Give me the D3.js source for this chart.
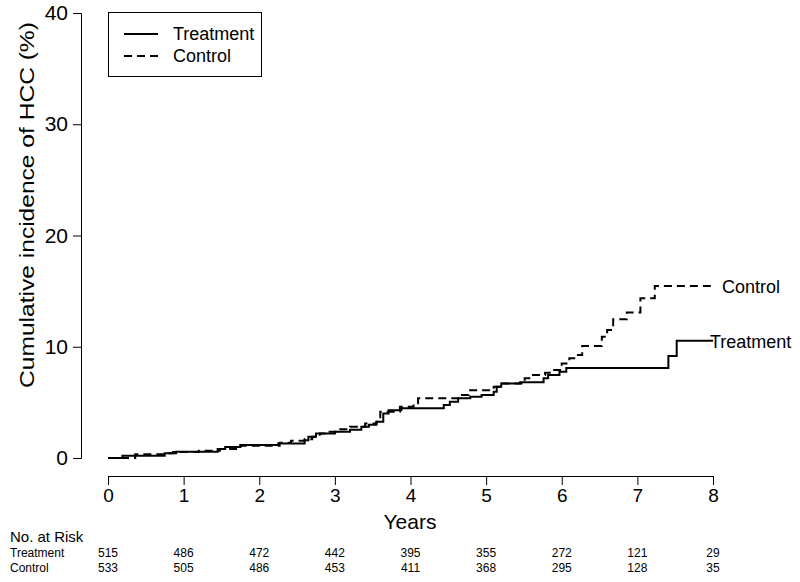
<!DOCTYPE html>
<html>
<head>
<meta charset="utf-8">
<script src="https://cdn.jsdelivr.net/npm/d3@7"></script>
<style>
  body { margin: 0; background: #fff; }
  svg { display: block; }
  text { font-family: "Liberation Sans", Arial, sans-serif; fill: #000; }
</style>
</head>
<body>
<svg id="chart" width="800" height="582"></svg>
<script>
// ---- data ----
const treatmentTimes  = [0, 0.19, 0.75, 0.90, 1.45, 1.55, 1.75, 2.25, 2.60, 2.65, 2.75, 3.00, 3.20, 3.35, 3.45, 3.55, 3.64, 3.71, 3.88, 4.44, 4.52, 4.63, 4.79, 4.94, 5.10, 5.14, 5.20, 5.45, 5.76, 5.82, 5.97, 6.06, 7.41, 7.52, 8.0];
const treatmentValues = [0, 0.20, 0.42, 0.57, 0.80, 1.00, 1.17, 1.30, 1.60, 1.90, 2.20, 2.35, 2.55, 2.80, 3.00, 3.26, 4.00, 4.30, 4.47, 4.77, 5.06, 5.37, 5.50, 5.67, 5.96, 6.40, 6.70, 6.80, 7.17, 7.46, 7.76, 8.10, 9.17, 10.55, 10.55];
const controlTimes  = [0, 0.36, 0.75, 0.86, 1.20, 1.48, 1.75, 2.27, 2.42, 2.60, 2.70, 2.80, 2.90, 3.05, 3.20, 3.40, 3.55, 3.60, 3.86, 4.04, 4.10, 4.65, 4.77, 5.10, 5.18, 5.51, 5.60, 5.78, 5.87, 6.00, 6.10, 6.20, 6.27, 6.53, 6.60, 6.68, 6.86, 7.04, 7.23, 8.0];
const controlValues = [0, 0.33, 0.42, 0.54, 0.66, 0.80, 1.10, 1.38, 1.56, 1.68, 1.90, 2.20, 2.37, 2.58, 2.80, 3.10, 3.26, 4.16, 4.60, 4.92, 5.37, 5.67, 6.10, 6.40, 6.70, 7.17, 7.46, 7.67, 7.90, 8.50, 8.97, 9.26, 10.07, 10.90, 11.50, 12.47, 13.07, 14.36, 15.47, 15.47];
const xTicks = [0, 1, 2, 3, 4, 5, 6, 7, 8];
const yTicks = [0, 10, 20, 30, 40];
const riskTimes = [0, 1, 2, 3, 4, 5, 6, 7, 8];
const riskTreatment = [515, 486, 472, 442, 395, 355, 272, 121, 29];
const riskControl   = [533, 505, 486, 453, 411, 368, 295, 128, 35];
const seriesNames = ["Treatment", "Control"];

// ---- layout ----
const svg = d3.select("#chart");
const x = d3.scaleLinear().domain([0, 8]).range([108, 713]);
const y = d3.scaleLinear().domain([0, 40]).range([458, 13]);

// y axis
const yAxis = svg.append("g").attr("transform", "translate(81,0)")
  .call(d3.axisLeft(y).tickValues(yTicks).tickSize(8).tickPadding(5));
yAxis.select(".domain").attr("stroke", "#000").attr("stroke-width", 1);
yAxis.selectAll(".tick line").attr("stroke", "#000");
yAxis.selectAll(".tick text").style("font-size", "21px").attr("fill", "#000")
  .attr("font-family", "Liberation Sans, Arial, sans-serif");

// x axis
const xAxis = svg.append("g").attr("transform", "translate(0,476)")
  .call(d3.axisBottom(x).tickValues(xTicks).tickSize(9).tickPadding(4));
xAxis.select(".domain").attr("stroke", "#000").attr("stroke-width", 1);
xAxis.selectAll(".tick line").attr("stroke", "#000");
xAxis.selectAll(".tick text").style("font-size", "19px").attr("fill", "#000")
  .attr("font-family", "Liberation Sans, Arial, sans-serif");

// axis titles
svg.append("text").attr("x", 410).attr("y", 529).attr("text-anchor", "middle")
  .style("font-size", "21px").text("Years");
svg.append("text").attr("transform", "translate(34,205) rotate(-90) scale(1.17,1)")
  .attr("text-anchor", "middle").style("font-size", "21px")
  .text("Cumulative incidence of HCC (%)");

// curves
const line = d3.line().x(d => x(d[0])).y(d => y(d[1])).curve(d3.curveStepAfter);
const tData = treatmentTimes.map((t, i) => [t, treatmentValues[i]]);
const cData = controlTimes.map((t, i) => [t, controlValues[i]]);
svg.append("path").datum(cData).attr("d", line).attr("fill", "none")
  .attr("stroke", "#000").attr("stroke-width", 2).attr("stroke-dasharray", "8,5");
svg.append("path").datum(tData).attr("d", line).attr("fill", "none")
  .attr("stroke", "#000").attr("stroke-width", 2);

// end labels
svg.append("text").attr("x", x(8) + 9).attr("y", y(controlValues[controlValues.length - 1]) + 7)
  .style("font-size", "18px").text(seriesNames[1]);
svg.append("text").attr("x", x(8) - 3).attr("y", y(treatmentValues[treatmentValues.length - 1]) + 7)
  .style("font-size", "18px").text(seriesNames[0]);

// legend
const lg = svg.append("g");
lg.append("rect").attr("x", 108.5).attr("y", 12.5).attr("width", 153).attr("height", 64)
  .attr("fill", "#fff").attr("stroke", "#000").attr("stroke-width", 1);
[[34, null], [56, "8,5"]].forEach((s, i) => {
  lg.append("line").attr("x1", 124).attr("x2", 158).attr("y1", s[0]).attr("y2", s[0])
    .attr("stroke", "#000").attr("stroke-width", 2).attr("stroke-dasharray", s[1]);
  lg.append("text").attr("x", 173).attr("y", s[0] + 6).style("font-size", "18px").text(seriesNames[i]);
});

// risk table
svg.append("text").attr("x", 10).attr("y", 542).style("font-size", "15px").text("No. at Risk");
[[riskTreatment, 557, seriesNames[0]], [riskControl, 572, seriesNames[1]]].forEach(r => {
  svg.append("text").attr("x", 10).attr("y", r[1]).style("font-size", "12px").text(r[2]);
  svg.selectAll(null).data(r[0]).enter().append("text")
    .attr("x", (d, i) => x(riskTimes[i])).attr("y", r[1])
    .attr("text-anchor", "middle").style("font-size", "12px").text(d => d);
});
</script>
</body>
</html>
